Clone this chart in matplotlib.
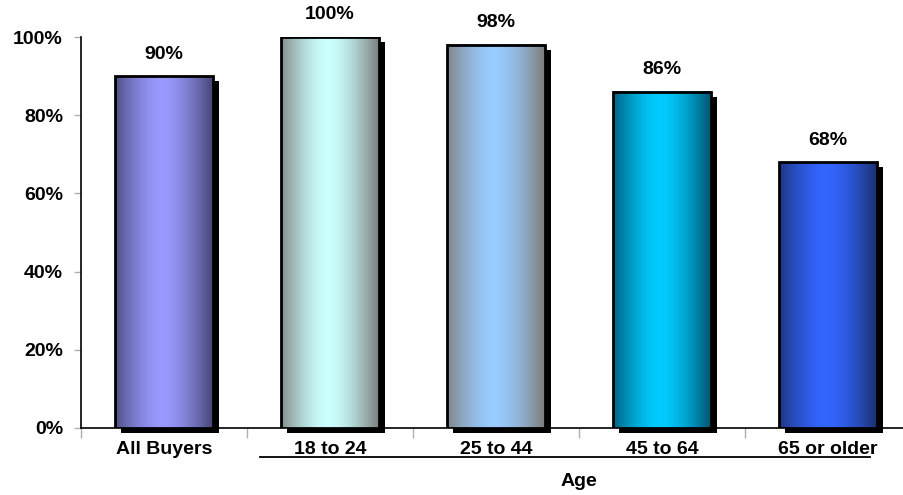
import matplotlib
matplotlib.use("Agg")
import matplotlib.pyplot as plt
import numpy as np
from matplotlib.colors import to_rgb
from matplotlib.patches import Rectangle

categories = ["All Buyers", "18 to 24", "25 to 44", "45 to 64", "65 or older"]
values = [90, 100, 98, 86, 68]
value_labels = ["90%", "100%", "98%", "86%", "68%"]
yticks = [0, 20, 40, 60, 80, 100]
ytick_labels = ["0%", "20%", "40%", "60%", "80%", "100%"]
edge_colors = ["#4a4a7c", "#7f8585", "#808080", "#005a78", "#1c3278"]
center_colors = ["#9999ff", "#ccffff", "#99ccff", "#00ccff", "#3366ff"]
xlabel = "Age"

plt.rcParams["font.family"] = ["Liberation Sans", "DejaVu Sans"]

W, H = 904, 495
fig = plt.figure(figsize=(W / 100, H / 100), dpi=100)
left, right = 81, 911
bottom, top = 428, 37
ax = fig.add_axes([left / W, 1 - bottom / H, (right - left) / W, (bottom - top) / H])
ax.set_xlim(-0.5, len(categories) - 0.5)
ax.set_ylim(0, 100)

x = np.arange(len(categories))
bars = ax.bar(x, values, width=0.585, facecolor="none", edgecolor="black", linewidth=2, zorder=4)

px_y = (bottom - top) / 100.0
dx = 6 / 166
dy = 5 / px_y
prof = np.linspace(0, 1, 256)
t = 1 - np.clip(np.abs(prof - 0.48) / 0.5, 0, 1) ** 1.6
for i, b in enumerate(bars):
    x0, w, h = b.get_x(), b.get_width(), b.get_height()
    ax.add_patch(Rectangle((x0 + dx, -dy), w, h, facecolor="black", edgecolor="none", zorder=2, clip_on=False))
    c0 = np.array(to_rgb(edge_colors[i]))
    c1 = np.array(to_rgb(center_colors[i]))
    img = c0[None, :] * (1 - t[:, None]) + c1[None, :] * t[:, None]
    ax.imshow(img[None, :, :], extent=(x0, x0 + w, 0, h), aspect="auto", zorder=3, interpolation="bilinear")
    ax.text(x[i], h + 22 / px_y, value_labels[i], ha="center", va="center", fontsize=14, fontweight="bold")

ax.set_xlim(-0.5, len(categories) - 0.5)
ax.set_ylim(0, 100)

for s in ["top", "right"]:
    ax.spines[s].set_visible(False)
ax.spines["left"].set_linewidth(1.2)
ax.spines["bottom"].set_linewidth(1.2)

ax.set_yticks(yticks)
ax.set_yticklabels(ytick_labels, fontsize=14, fontweight="bold")
ax.tick_params(axis="y", length=5, color="#b0b0b0", width=1, pad=8)

ax.set_xticks(x)
ax.set_xticklabels(categories, fontsize=14, fontweight="bold")
ax.tick_params(axis="x", length=0, pad=9)
ax.set_xticks(np.arange(len(categories) + 1) - 0.5, minor=True)
ax.tick_params(axis="x", which="minor", length=7, color="#b0b0b0", width=1)

ly = -28.5 / px_y
ax.plot([0.578, 4.25], [ly, ly], color="black", linewidth=1.3, clip_on=False)
ax.text(2.5, -53 / px_y, xlabel, ha="center", va="center", fontsize=14, fontweight="bold")

fig.savefig("out.png", dpi=100)
